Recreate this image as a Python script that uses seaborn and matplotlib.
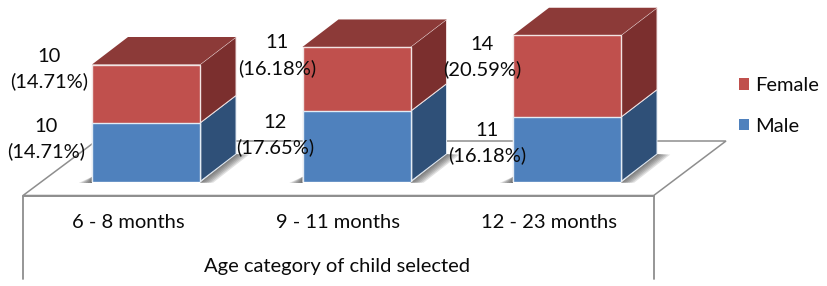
import matplotlib
matplotlib.use("Agg")
import matplotlib.pyplot as plt
from matplotlib.patches import Polygon
import pandas as pd
import seaborn as sns

categories = ["6 - 8 months", "9 - 11 months", "12 - 23 months"]
male = [10, 12, 11]
female = [10, 11, 14]
male_pct = ["14.71", "17.65", "16.18"]
female_pct = ["14.71", "16.18", "20.59"]
axis_title = "Age category of child selected"

W, H = 827, 286
BASE_PX = 181.5
UNIT_PX = 5.85
FIRST_PX = 146.0
STEP_PX = 210.5
DEPTH_X_PX = 36.0
DEPTH_Y_PX = 27.5
TICK_SHIFT_PX = 18.0
C_MALE, C_FEMALE = "#4F81BD", "#C0504D"
C_MALE_SIDE, C_FEMALE_SIDE = "#2F5078", "#7B2F2E"
C_TOP = "#8C3A38"
C_FLOOR = "#8E8E8E"
FS = 14.5

sns.set_theme(style="white")
plt.rcParams["font.family"] = ["Lato", "DejaVu Sans"]

fig = plt.figure(figsize=(W / 100, H / 100), dpi=100, facecolor="white")
ax = fig.add_axes([0, 1 - BASE_PX / H, 1, BASE_PX / H])


def X(px):
    return (px - FIRST_PX) / STEP_PX


def Y(px):
    return (BASE_PX - px) / UNIT_PX


def FX(px):
    return px / W


df = pd.DataFrame({"age": categories, "male": male, "female": female})
df["total"] = df["male"] + df["female"]

sns.barplot(data=df, x="age", y="total", order=categories, color=C_FEMALE, saturation=1,
            width=108 / STEP_PX, errorbar=None, edgecolor="#F2E4E3", linewidth=1.0,
            label="Female", ax=ax, zorder=5)
sns.barplot(data=df, x="age", y="male", order=categories, color=C_MALE, saturation=1,
            width=108 / STEP_PX, errorbar=None, edgecolor="#E3ECF5", linewidth=1.0,
            label="Male", ax=ax, zorder=6)

ax.set_xlim(X(0), X(W))
ax.set_ylim(0, Y(0))
sns.despine(ax=ax, left=True, bottom=True, right=True, top=True)
ax.set_yticks([])
ax.set_xticks([i - TICK_SHIFT_PX / STEP_PX for i in range(len(categories))], categories)
ax.tick_params(axis="x", length=0, pad=23.5, labelsize=FS, colors="#0A0A0A")
ax.set_xlabel(axis_title, fontsize=FS, color="#0A0A0A", labelpad=19)
ax.set_ylabel("")
ax.xaxis.get_label().set_x(FX(337))
ax.patch.set_alpha(0)

dx = DEPTH_X_PX / STEP_PX
dy = DEPTH_Y_PX / UNIT_PX

# floor of the 3-D plot area
floor = Polygon([(X(23), Y(195.5)), (X(653.7), Y(195.5)), (X(726), Y(141)), (X(96), Y(141))],
                closed=True, facecolor="white", edgecolor=C_FLOOR, linewidth=1.1, clip_on=False, zorder=1)
ax.add_patch(floor)
for xp in (23, 653.7):
    ax.plot([X(xp), X(xp)], [Y(195.5), Y(279)], color=C_FLOOR, lw=1.3, clip_on=False, zorder=1)
ax.plot([X(23), X(653.7)], [Y(195.5), Y(195.5)], color=C_FLOOR, lw=1.4, clip_on=False, zorder=1)

# depth faces and shadows derived from the bars drawn by seaborn
n = len(categories)
female_bars = ax.patches[:n]
male_bars = ax.patches[n:2 * n]
for fb, mb in zip(female_bars, male_bars):
    l, r = fb.get_x(), fb.get_x() + fb.get_width()
    t, m = fb.get_height(), mb.get_height()
    for k in range(1, 7):
        w = k * 2.2 / STEP_PX
        ax.add_patch(Polygon([(r, -0.2), (r + w, -0.2), (r + dx + w, dy - 0.1), (r + dx, dy)],
                             closed=True, facecolor="#444444", edgecolor="none", alpha=0.16,
                             zorder=2, clip_on=False))
        ax.add_patch(Polygon([(l, -0.25), (l - w, -0.25), (l, 0.8)],
                             closed=True, facecolor="#333333", edgecolor="none", alpha=0.16,
                             zorder=2, clip_on=False))
    ax.add_patch(Polygon([(r, 0), (r + dx, dy), (r + dx, m + dy), (r, m)], closed=True,
                         facecolor=C_MALE_SIDE, edgecolor="#DDE6F0", linewidth=0.7, zorder=4, clip_on=False))
    ax.add_patch(Polygon([(r, m), (r + dx, m + dy), (r + dx, t + dy), (r, t)], closed=True,
                         facecolor=C_FEMALE_SIDE, edgecolor="#F0E0E0", linewidth=0.7, zorder=4, clip_on=False))
    ax.add_patch(Polygon([(l, t), (l + dx, t + dy), (r + dx, t + dy), (r, t)], closed=True,
                         facecolor=C_TOP, edgecolor="none", zorder=4, clip_on=False))

# data labels: pixel placement of each label's centre
female_label_px = [(49, 69), (277, 55.5), (482, 57)]
male_label_px = [(46, 139), (275, 135), (487, 143)]
for vals, pcts, places in ((female, female_pct, female_label_px), (male, male_pct, male_label_px)):
    for v, p, (xp, yp) in zip(vals, pcts, places):
        ax.text(X(xp), Y(yp), f"{v}\n({p}%)", ha="center", va="center", fontsize=FS,
                color="#0A0A0A", linespacing=1.52, zorder=10, clip_on=False)

handles = [female_bars[0], male_bars[0]]
leg = ax.legend(handles, ["Female", "Male"], loc="center left",
                bbox_to_anchor=(FX(739), 1 - 106 / BASE_PX),
                frameon=False, fontsize=FS, handlelength=0.5, handleheight=0.5,
                handletextpad=0.3, labelspacing=1.17, borderpad=0, borderaxespad=0)
for h in leg.legend_handles:
    h.set_linewidth(0)
for t in leg.get_texts():
    t.set_color("#0A0A0A")

fig.savefig("out.png", dpi=100, facecolor="white")
